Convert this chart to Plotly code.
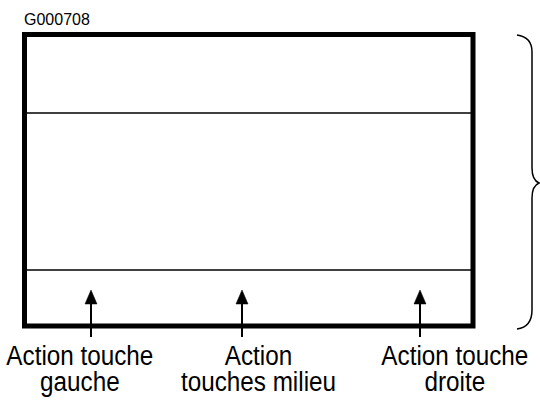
import plotly.graph_objects as go

# --- content ---
figure_id = "G000708"
label_lines_top = ["Action touche", "Action", "Action touche"]
label_lines_bottom = ["gauche", "touches milieu", "droite"]

# --- layout geometry (pixel coordinates, y downward) ---
W, H = 540, 401
box = dict(x0=24.5, x1=473, y0=34.5, y1=326)
divider_y = [113, 270]
arrow_x = [91, 242, 420]
label_x = [80, 258, 454.5]
FONT = "Liberation Sans, Arial, sans-serif"
LABEL_SIZE = 28
NARROW = 0.867      # horizontal condensing of the label font
LINE_GAP_EM = 0.94  # tight line spacing of the two-line labels

fig = go.Figure()
fig.add_trace(go.Scatter(x=[0, W], y=[0, H], mode="markers",
                         marker=dict(opacity=0), hoverinfo="skip", showlegend=False))

shapes = []
# outer thick frame
shapes.append(dict(type="rect", xref="x", yref="y", **box,
                   line=dict(color="black", width=5), fillcolor="rgba(0,0,0,0)"))
# internal dividers
for yv in divider_y:
    shapes.append(dict(type="line", xref="x", yref="y", x0=box["x0"] + 2, x1=box["x1"] - 2,
                       y0=yv, y1=yv, line=dict(color="black", width=1.3)))
# arrows
for xa in arrow_x:
    shapes.append(dict(type="line", xref="x", yref="y", x0=xa, x1=xa, y0=302, y1=337,
                       line=dict(color="black", width=2)))
    shapes.append(dict(type="path", xref="x", yref="y",
                       path=f"M {xa} 290 L {xa-6} 304 L {xa+6} 304 Z",
                       fillcolor="black", line=dict(color="black", width=0.5)))
# right brace
brace = ("M 517 35 Q 532 37 532 52 L 532 168 Q 532 180 539 183 "
         "Q 532 186 532 198 L 532 310 Q 532 327 517 329")
shapes.append(dict(type="path", xref="x", yref="y", path=brace,
                   line=dict(color="black", width=1.5)))

annotations = [dict(x=22, y=19.5, xref="x", yref="y", text=figure_id, showarrow=False,
                    xanchor="left", yanchor="middle",
                    font=dict(family=FONT, size=16, color="black"))]
for lx, t1, t2 in zip(label_x, label_lines_top, label_lines_bottom):
    annotations.append(dict(x=lx, y=338, xref="x", yref="y", text=f"{t1}<br>{t2}",
                            showarrow=False, xanchor="center", yanchor="top", align="center",
                            font=dict(family=FONT, size=LABEL_SIZE, color="black")))

fig.update_layout(
    width=W, height=H, margin=dict(l=0, r=0, t=0, b=0),
    paper_bgcolor="white", plot_bgcolor="white",
    xaxis=dict(range=[0, W], visible=False, fixedrange=True),
    yaxis=dict(range=[H, 0], visible=False, fixedrange=True),
    shapes=shapes, annotations=annotations, showlegend=False,
)

post = """
document.body.style.margin='0';
document.body.style.overflow='hidden';
document.querySelectorAll('text.annotation-text').forEach(function(t){
  if (parseFloat(t.style.fontSize) >= 20) {
    t.querySelectorAll('tspan.line').forEach(function(s, i){
      if (i > 0) { s.setAttribute('dy', (i * %s) + 'em'); }
    });
    var b = t.getBBox();
    var cx = b.x + b.width / 2;
    t.setAttribute('transform', 'translate(' + cx + ',0) scale(%s,1) translate(' + (-cx) + ',0)');
  }
});
""" % (LINE_GAP_EM, NARROW)

fig.write_html("out.html", config={"displayModeBar": False}, post_script=post)
